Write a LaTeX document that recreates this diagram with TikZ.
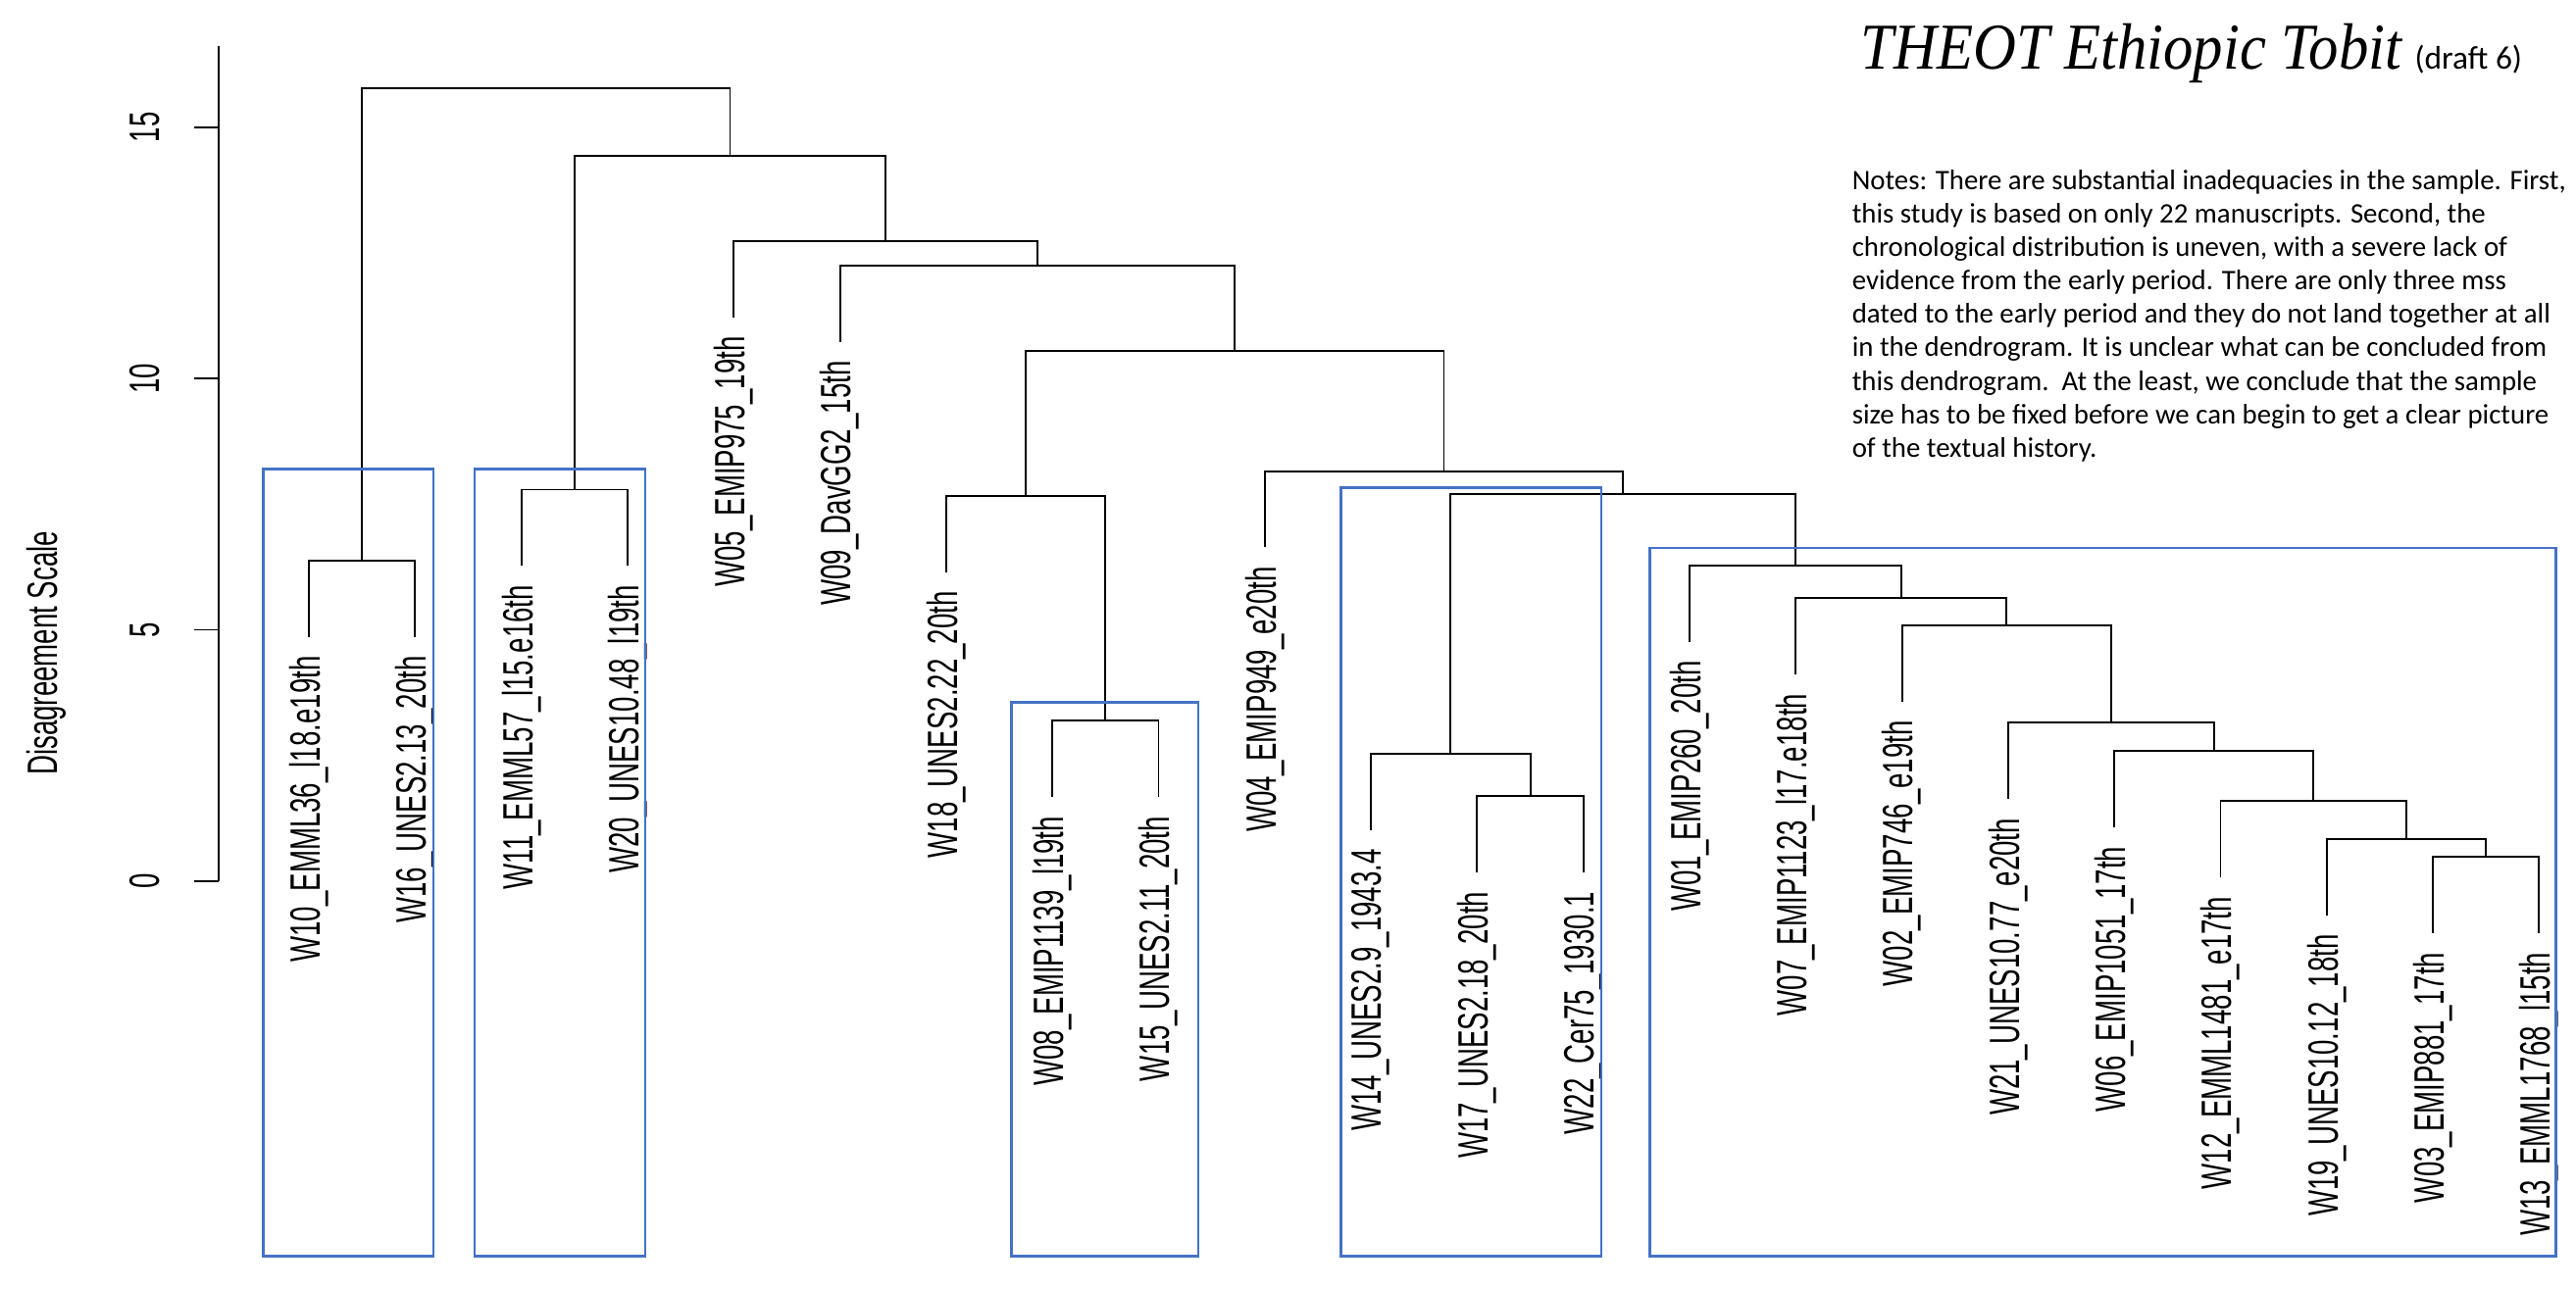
\documentclass[tikz,border=0pt]{standalone}
\usepackage{fontspec}
\setmainfont{Liberation Sans}
\newfontfamily\plotfont[FakeStretch=0.64]{Liberation Sans}
\newfontfamily\titlefont[FakeStretch=0.91]{Liberation Serif}
\newfontfamily\notefont{Carlito}
\usetikzlibrary{positioning}
\definecolor{ClusterBlue}{HTML}{4472C4}
\tikzset{
  branch/.style={line width=0.55pt, draw=black},
  axisline/.style={line width=0.55pt, draw=black},
  leaflabel/.style={rotate=90, anchor=east, inner sep=0pt, font=\plotfont\fontsize{12.3}{14}\selectfont},
  ticklabel/.style={rotate=90, inner sep=0pt, font=\plotfont\fontsize{12.3}{14}\selectfont},
  clusterbox/.style={draw=ClusterBlue, line width=0.8pt},
  titletext/.style={anchor=base west, inner sep=0pt, font=\titlefont\itshape\fontsize{19}{22}\selectfont},
  drafttext/.style={anchor=base west, inner sep=0pt, font=\notefont\fontsize{9.5}{11}\selectfont},
  notetext/.style={anchor=north west, inner sep=0pt, align=left, font=\notefont\fontsize{8.2}{9.72}\selectfont}
}

\begin{document}
\begin{tikzpicture}[x=1.0832cm, y=0.51267cm]
\useasboundingbox (-1.9095,-8.114) rectangle (22.347,17.535);

% axis
\coordinate (axis0) at (0.152,0);
\coordinate (axistop) at (0.152,16.62);
\draw[axisline] (axis0) -- (axistop);
\foreach \t in {0,5,10,15} {
  \coordinate (tick\t) at (0.152,\t);
  \draw[axisline] (tick\t) -- ++(-0.23,0);
  \node[ticklabel] (ticklab\t) at (-0.549,\t) {\t};
}
\node[ticklabel] (ylab) at (-1.476,4.535) {Disagreement Scale};

% merges
\coordinate (root) at (3.232,15.78);
\coordinate (m1) at (1.5,6.38);
\coordinate (m2) at (4.965,14.43);
\coordinate (m3) at (3.5,7.79);
\coordinate (m4) at (6.43,12.74);
\coordinate (m5) at (7.859,12.25);
\coordinate (m6) at (9.718,10.55);
\coordinate (m7) at (7.75,7.67);
\coordinate (m8) at (8.5,3.19);
\coordinate (m9) at (11.687,8.16);
\coordinate (m10) at (13.373,7.71);
\coordinate (m11) at (11.75,2.54);
\coordinate (m12) at (12.5,1.69);
\coordinate (m13) at (14.996,6.28);
\coordinate (m14) at (15.992,5.63);
\coordinate (m15) at (16.984,5.09);
\coordinate (m16) at (17.969,3.15);
\coordinate (m17) at (18.938,2.59);
\coordinate (m18) at (19.875,1.59);
\coordinate (m19) at (20.75,0.84);
\coordinate (m20) at (21.5,0.48);

% leaves
\foreach \i/\h/\txt in {
  1/4.86/W10\_EMML36\_l18.e19th,
  2/4.86/W16\_UNES2.13\_20th,
  3/6.27/W11\_EMML57\_l15.e16th,
  4/6.27/W20\_UNES10.48\_l19th,
  5/11.22/W05\_EMIP975\_19th,
  6/10.73/W09\_DavGG2\_15th,
  7/6.15/W18\_UNES2.22\_20th,
  8/1.67/W08\_EMIP1139\_l19th,
  9/1.67/W15\_UNES2.11\_20th,
  10/6.64/W04\_EMIP949\_e20th,
  11/1.02/W14\_UNES2.9\_1943.4,
  12/0.17/W17\_UNES2.18\_20th,
  13/0.17/W22\_Cer75\_1930.1,
  14/4.76/W01\_EMIP260\_20th,
  15/4.11/W07\_EMIP1123\_l17.e18th,
  16/3.57/W02\_EMIP746\_e19th,
  17/1.63/W21\_UNES10.77\_e20th,
  18/1.07/W06\_EMIP1051\_17th,
  19/0.07/W12\_EMML1481\_e17th,
  20/-0.68/W19\_UNES10.12\_18th,
  21/-1.04/W03\_EMIP881\_17th,
  22/-1.04/W13\_EMML1768\_l15th} {
  \coordinate (leaf\i) at (\i,\h);
  \node[leaflabel] (lab\i) at ([yshift=-0.19cm]leaf\i) {\txt};
}

% branches
\foreach \p/\c in {root/m1, root/m2, m1/leaf1, m1/leaf2, m2/m3, m2/m4,
    m3/leaf3, m3/leaf4, m4/leaf5, m4/m5, m5/leaf6, m5/m6, m6/m7, m6/m9,
    m7/leaf7, m7/m8, m8/leaf8, m8/leaf9, m9/leaf10, m9/m10, m10/m11,
    m10/m13, m11/leaf11, m11/m12, m12/leaf12, m12/leaf13, m13/leaf14,
    m13/m14, m14/leaf15, m14/m15, m15/leaf16, m15/m16, m16/leaf17,
    m16/m17, m17/leaf18, m17/m18, m18/leaf19, m18/m19, m19/leaf20,
    m19/m20, m20/leaf21, m20/leaf22}
  \draw[branch] (\p) -| (\c);

% clusters
\draw[clusterbox] (0.566,8.196) rectangle (2.172,-7.461);
\draw[clusterbox] (2.560,8.196) rectangle (4.166,-7.461);
\draw[clusterbox] (7.614,3.55) rectangle (9.374,-7.461);
\draw[clusterbox] (10.715,7.835) rectangle (13.169,-7.461);
\draw[clusterbox] (13.625,6.628) rectangle (22.157,-7.461);

% title and notes
\node[titletext] (title) at (15.607,16.15) {THEOT Ethiopic Tobit};
\node[drafttext, right=0.12cm of title.base east, anchor=base west] (draft) {(draft 6)};
\node[notetext] (notes) at (15.524,14.17) {Notes: There are substantial inadequacies in the sample. First,\\
this study is based on only 22 manuscripts. Second, the\\
chronological distribution is uneven, with a severe lack of\\
evidence from the early period. There are only three mss\\
dated to the early period and they do not land together at all\\
in the dendrogram. It is unclear what can be concluded from\\
this dendrogram.\ \ At the least, we conclude that the sample\\
size has to be fixed before we can begin to get a clear picture\\
of the textual history.};
\end{tikzpicture}
\end{document}
